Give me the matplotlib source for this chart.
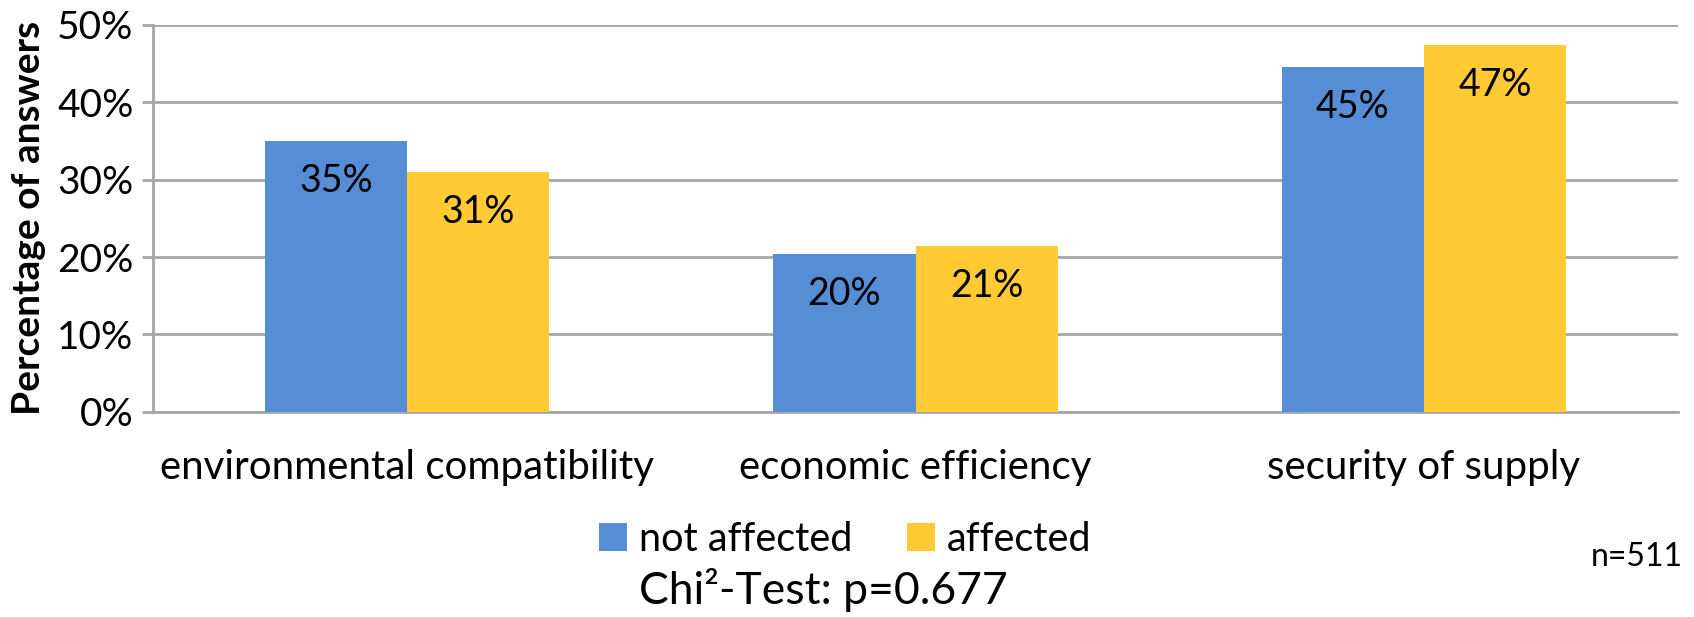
import matplotlib.pyplot as plt
import numpy as np
from matplotlib.patches import Patch

plt.rcParams['font.family'] = ['Lato', 'DejaVu Sans']

categories = ['environmental compatibility', 'economic efficiency', 'security of supply']
not_affected = [35.0, 20.4, 44.6]
affected = [31.0, 21.4, 47.4]
series_names = ['not affected', 'affected']
yticks = [0, 10, 20, 30, 40, 50]

blue = '#558ed5'
yellow = '#ffca33'
grid_gray = '#a6a6a6'

fig = plt.figure(figsize=(16.94, 6.17), dpi=100)
ax = fig.add_axes([0.0903, 0.3327, 0.9003, 0.6268])

x = np.arange(len(categories))
w = 0.28
b1 = ax.bar(x - w / 2, not_affected, w, color=blue, zorder=3)
b2 = ax.bar(x + w / 2, affected, w, color=yellow, zorder=3)

# value labels just below the top of each bar
for bars, vals in ((b1, not_affected), (b2, affected)):
    for rect, v in zip(bars, vals):
        ax.annotate(f'{v:.0f}%', (rect.get_x() + rect.get_width() / 2, v),
                    xytext=(0, -29), textcoords='offset points',
                    ha='center', va='center', fontsize=27, color='black', zorder=4)

ax.set_xlim(-0.5, 2.5)
ax.set_ylim(0, 50)
ax.set_yticks(yticks)
ax.set_yticklabels([f'{t}%' for t in yticks], fontsize=28)
ax.yaxis.grid(True, color=grid_gray, linewidth=2, zorder=0)
ax.tick_params(axis='y', direction='out', length=8, width=2, color=grid_gray, pad=6)
ax.tick_params(axis='x', length=0, pad=27)
ax.set_xticks(x)
ax.set_xticklabels(categories, fontsize=29)

for s in ('top', 'right'):
    ax.spines[s].set_visible(False)
for s in ('left', 'bottom'):
    ax.spines[s].set_color(grid_gray)
    ax.spines[s].set_linewidth(2)

ax.set_ylabel('Percentage of answers', fontsize=28, fontweight='bold', labelpad=8)

handles = [Patch(facecolor=blue, label=series_names[0]),
           Patch(facecolor=yellow, label=series_names[1])]
fig.legend(handles=handles, loc='center', bbox_to_anchor=(0.499, 0.126),
           ncol=2, frameon=False, fontsize=28.5, handlelength=0.7, handleheight=0.7,
           handletextpad=0.3, columnspacing=1.4)

fig.text(0.486, 0.008, 'Chi²-Test: p=0.677', ha='center', va='bottom', fontsize=32)
fig.text(0.9935, 0.097, 'n=511', ha='right', va='center', fontsize=23)

fig.savefig('out.png', dpi=100)
